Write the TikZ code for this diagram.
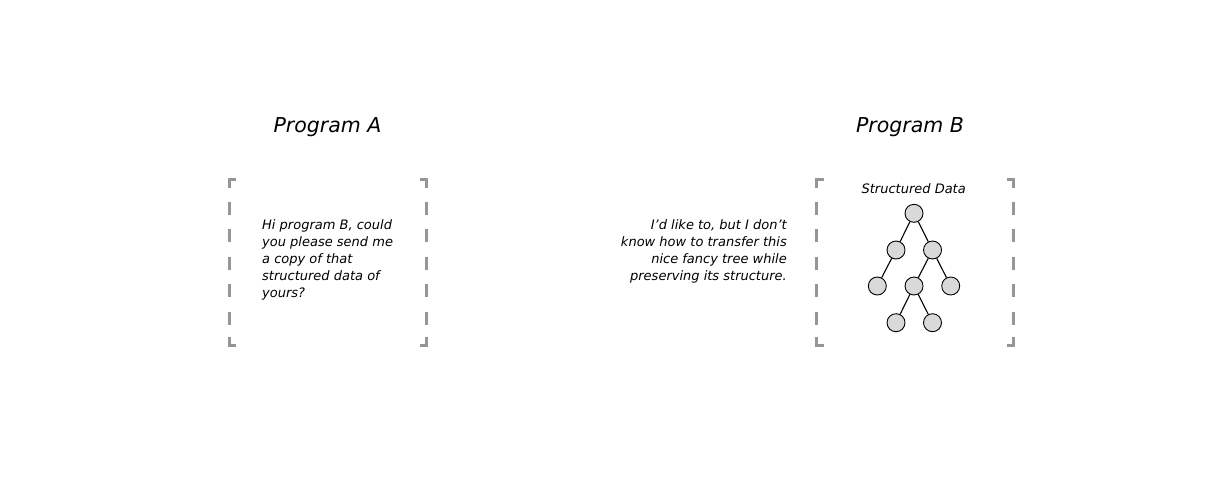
\documentclass[tikz,border=0pt]{standalone}
\usepackage{fontspec}
\setmainfont{DejaVu Sans}
\definecolor{brkc}{RGB}{150,150,150}
\definecolor{nodefill}{RGB}{217,217,217}
\begin{document}
\begin{tikzpicture}[x=1pt,y=-1pt,
  brk/.style={draw=brkc, line width=3pt},
  tnode/.style={circle, draw=black, fill=nodefill, minimum size=18pt, inner sep=0pt, line width=0.9pt},
  tedge/.style={draw=black, line width=1.1pt},
  title/.style={font=\fontsize{20.5}{24}\selectfont\itshape, inner sep=0pt},
  body/.style={font=\fontsize{13}{17}\selectfont\itshape, inner sep=0pt}]
\useasboundingbox[fill=white] (0,0) rectangle (1230,501);

% titles
\node[title, anchor=base] (ta) at (327.5,132.5) {Program A};
\node[title, anchor=base] (tb) at (910,132.5) {Program B};

% brackets
\foreach \x/\d in {229/1, 426.7/-1, 816.7/1, 1013.5/-1}{
  \draw[brk] (\x+7*\d,179.5) -- (\x,179.5) -- (\x,188);
  \foreach \y in {201.5,229,256.5,284,311.5}
    \draw[brk] (\x,\y) -- (\x,\y+13);
  \draw[brk] (\x,337) -- (\x,345) -- (\x+7*\d,345);
}

% messages
\node[body, anchor=north west, align=left] (msga) at (262,219.5)
  {Hi program B, could\\you please send me\\a copy of that\\structured data of\\yours?};
\node[body, anchor=north east, align=right] (msgb) at (787,219.5)
  {I’d like to, but I don’t\\know how to transfer this\\nice fancy tree while\\preserving its structure.};

% structured data tree
\node[body, anchor=base] (sd) at (913.7,193.3) {Structured Data};
\node[tnode] (n1) at (914,213.3) {};
\node[tnode] (n2) at (896,250) {};
\node[tnode] (n3) at (932.5,250) {};
\node[tnode] (n4) at (877.3,286) {};
\node[tnode] (n5) at (914,286) {};
\node[tnode] (n6) at (950.7,286) {};
\node[tnode] (n7) at (896,322.7) {};
\node[tnode] (n8) at (932.5,322.7) {};
\draw[tedge] (n1) -- (n2);
\draw[tedge] (n1) -- (n3);
\draw[tedge] (n2) -- (n4);
\draw[tedge] (n3) -- (n5);
\draw[tedge] (n3) -- (n6);
\draw[tedge] (n5) -- (n7);
\draw[tedge] (n5) -- (n8);
\end{tikzpicture}
\end{document}
